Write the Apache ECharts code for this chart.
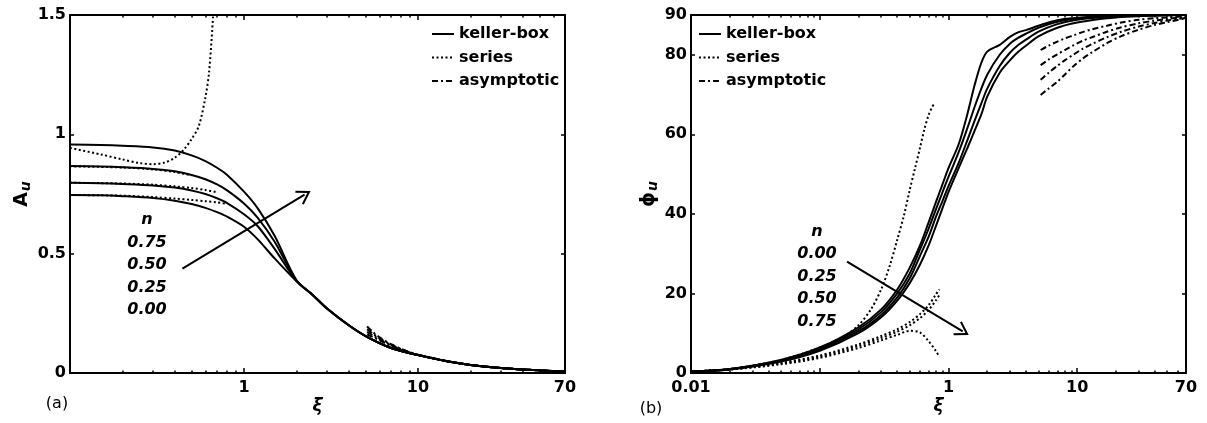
<!DOCTYPE html>
<html>
<head>
<meta charset="utf-8">
<script src="https://cdn.jsdelivr.net/npm/echarts@6.0.0/dist/echarts.min.js"></script>
<style>
  html, body { margin: 0; padding: 0; background: #fff; }
  #chart { width: 1207px; height: 423px; }
</style>
</head>
<body>
<div id="chart"></div>
<script>
// ---- panel (a): A_u vs xi ----
const xiA = [0.1, 0.15, 0.2, 0.3, 0.4, 0.5, 0.6, 0.7, 0.8, 1, 1.2, 1.5, 2, 2.5, 3, 4, 5, 7, 10, 15, 20, 30, 50, 70]
const kbA_075 = [0.957, 0.955, 0.952, 0.945, 0.932, 0.912, 0.888, 0.86, 0.83, 0.76, 0.69, 0.575, 0.39, 0.325, 0.27, 0.2, 0.155, 0.105, 0.075, 0.048, 0.034, 0.021, 0.011, 0.007]
const kbA_050 = [0.867, 0.865, 0.862, 0.855, 0.845, 0.83, 0.812, 0.79, 0.765, 0.71, 0.65, 0.55, 0.388, 0.325, 0.27, 0.2, 0.155, 0.105, 0.075, 0.048, 0.034, 0.021, 0.011, 0.007]
const kbA_025 = [0.797, 0.795, 0.792, 0.786, 0.777, 0.765, 0.75, 0.732, 0.712, 0.665, 0.615, 0.52, 0.386, 0.325, 0.27, 0.2, 0.155, 0.105, 0.075, 0.048, 0.034, 0.021, 0.011, 0.007]
const kbA_000 = [0.746, 0.745, 0.741, 0.733, 0.722, 0.708, 0.692, 0.674, 0.655, 0.613, 0.56, 0.48, 0.385, 0.325, 0.27, 0.2, 0.155, 0.105, 0.075, 0.048, 0.034, 0.021, 0.011, 0.007]

const xiSerA_075 = [0.1, 0.15, 0.2, 0.25, 0.3, 0.35, 0.4, 0.45, 0.5, 0.55, 0.6, 0.63, 0.665]
const serA_075 = [0.943, 0.916, 0.895, 0.88, 0.875, 0.882, 0.902, 0.935, 0.98, 1.035, 1.155, 1.26, 1.5]
const xiSerA_050 = [0.1, 0.2, 0.3, 0.4, 0.5]
const serA_050 = [0.866, 0.861, 0.853, 0.842, 0.828]
const xiSerA_025 = [0.1, 0.2, 0.3, 0.4, 0.5, 0.6, 0.7]
const serA_025 = [0.797, 0.794, 0.789, 0.782, 0.775, 0.767, 0.757]
const xiSerA_000 = [0.1, 0.2, 0.3, 0.4, 0.5, 0.6, 0.7, 0.8]
const serA_000 = [0.746, 0.743, 0.737, 0.731, 0.725, 0.72, 0.715, 0.708]

const xiAsA = [5.1, 5.5, 6, 7, 8, 9, 10, 15, 20, 30, 50, 70]
const asA_1 = [0.195, 0.172, 0.15, 0.121, 0.101, 0.087, 0.077, 0.048, 0.034, 0.021, 0.011, 0.007]
const asA_2 = [0.183, 0.165, 0.146, 0.119, 0.1, 0.086, 0.077, 0.048, 0.034, 0.021, 0.011, 0.007]
const asA_3 = [0.172, 0.158, 0.141, 0.116, 0.098, 0.085, 0.076, 0.048, 0.034, 0.021, 0.011, 0.007]
const asA_4 = [0.162, 0.151, 0.137, 0.113, 0.096, 0.084, 0.076, 0.048, 0.034, 0.021, 0.011, 0.007]

const arrowA = [[0.443, 0.4375], [2.23, 0.7475]]

// ---- panel (b): phi_u vs xi ----
const xiB = [0.01, 0.02, 0.05, 0.1, 0.2, 0.3, 0.4, 0.5, 0.6, 0.7, 0.8, 0.9, 1, 1.2, 1.4, 1.6, 1.8, 2, 2.5, 3, 3.5, 4, 5, 7, 10, 15, 20, 30, 50, 70]
const kbB_000 = [0.4, 1.0, 3.3, 6.4, 11.5, 16, 21, 26.5, 32, 37.8, 43, 47.5, 51.5, 57.5, 65, 72.5, 78, 80.8, 82.5, 84.5, 85.7, 86.2, 87.3, 88.7, 89.3, 89.7, 89.8, 89.9, 90, 90]
const kbB_025 = [0.38, 0.97, 3.2, 6.2, 11, 15.3, 20, 25, 31, 36.2, 41.2, 45.5, 49.3, 55.5, 61.5, 67, 71.5, 75, 80, 82.8, 84.3, 85.3, 86.8, 88.3, 89.1, 89.6, 89.8, 89.9, 90, 90]
const kbB_050 = [0.36, 0.93, 3.0, 5.9, 10.5, 14.6, 19, 23.8, 29.4, 34.2, 39.3, 43.3, 47, 52.8, 58.5, 63.5, 67.8, 71.5, 77.2, 80.5, 82.5, 83.8, 85.8, 87.7, 88.8, 89.4, 89.7, 89.9, 90, 90]
const kbB_075 = [0.35, 0.9, 2.9, 5.6, 10, 14, 18.2, 22.6, 27.2, 32, 37, 41.5, 45.5, 51.5, 56.5, 61, 65, 69.5, 75.5, 78.6, 80.8, 82.3, 84.6, 86.8, 88.1, 89, 89.4, 89.7, 89.9, 90]

const xiSerB_000 = [0.01, 0.02, 0.05, 0.1, 0.15, 0.2, 0.25, 0.3, 0.35, 0.4, 0.45, 0.5, 0.55, 0.6, 0.65, 0.7, 0.75, 0.77]
const serB_000 = [0.4, 1.0, 3.3, 6.4, 9.0, 12, 16, 21, 27, 33.5, 39.5, 46, 51.5, 56.5, 61.3, 64.8, 67, 67.5]
const xiSerB = [0.01, 0.02, 0.05, 0.1, 0.2, 0.3, 0.4, 0.5, 0.6, 0.7, 0.8, 0.85]
const serB_025 = [0.38, 0.95, 2.6, 4.4, 7.2, 9.3, 11, 12.8, 14.8, 17, 19.8, 21]
const serB_050 = [0.36, 0.9, 2.4, 4.1, 6.8, 8.8, 10.4, 12, 13.8, 15.8, 18.3, 19.6]
const serB_075 = [0.35, 0.85, 2.2, 3.8, 6.3, 8.2, 9.6, 10.6, 10.2, 8, 5.5, 4]

const xiAsB = [5.2, 6, 7, 8, 9.4, 11, 13, 17, 22, 30, 40, 50, 70]
const asB_1 = [81.2, 82.3, 83.3, 84.1, 84.9, 85.7, 86.4, 87.3, 88.1, 88.8, 89.2, 89.4, 89.7]
const asB_2 = [77.4, 78.8, 80.1, 81.2, 82.4, 83.5, 84.4, 85.8, 86.9, 87.9, 88.6, 89, 89.5]
const asB_3 = [73.7, 75.5, 77.2, 78.6, 80.1, 81.5, 82.7, 84.4, 85.8, 87.1, 88, 88.6, 89.3]
const asB_4 = [69.9, 71.5, 73.2, 75, 77.2, 79, 80.6, 82.9, 84.7, 86.3, 87.5, 88.2, 89.2]

const arrowB = [[0.163, 28.0], [1.29, 10.46]]

// axis ticks / labels
const xLabelsA = [1, 10, 70]
const xLabelsB = [0.01, 1, 10, 70]
const xMajorA = [1, 10]
const xMajorB = [0.1, 1, 10]
const nLabelsA = ['n', '0.75', '0.50', '0.25', '0.00']
const nLabelsB = ['n', '0.00', '0.25', '0.50', '0.75']
const legendNames = ['keller-box', 'series', 'asymptotic']

const FONT = 'DejaVu Sans'
const DOTTED = [2, 2.5]
const DASHDOT = [6, 3, 2, 3]
const ARROW = 'path://M8,0 L16,12 L14.4,13.2 L8,3.6 L1.6,13.2 L0,12 Z'

const minorTicks = (lo, hi) => {
  const out = []
  for (let d = lo; d < hi; d *= 10) {
    for (let k = 2; k <= 9; k++) {
      const v = +(k * d).toPrecision(3)
      if (v < 70) out.push(v)
    }
  }
  return out
}

const fmtLog = (v) => {
  const x = Math.pow(10, v)
  return x < 0.999 ? x.toFixed(2) : String(Math.round(x))
}

const pairs = (xs, ys) => xs.map((x, i) => [x, ys[i]])

const line = (name, xs, ys, xi, yi, type) => ({
  name,
  type: 'line',
  xAxisIndex: xi,
  yAxisIndex: yi,
  data: pairs(xs, ys),
  symbol: 'none',
  smooth: 0.3,
  silent: true,
  animation: false,
  lineStyle: { color: '#000', width: 2, type }
})

const tickAxis = (grid, min, pos, values, len, labels, showLine) => ({
  type: 'value',
  gridIndex: grid,
  position: pos,
  min,
  max: Math.log10(70),
  axisLine: { show: !!showLine, onZero: false, lineStyle: { color: '#000', width: 2 } },
  axisTick: {
    show: true, inside: true, length: len,
    customValues: values.map(Math.log10),
    lineStyle: { color: '#000', width: 1.5 }
  },
  axisLabel: labels ? {
    show: true,
    customValues: labels.map(Math.log10),
    formatter: fmtLog,
    margin: 7,
    color: '#000', fontFamily: FONT, fontWeight: 'bold', fontSize: 16
  } : { show: false },
  splitLine: { show: false }
})

const dataAxis = (grid, min) => ({
  type: 'log',
  logBase: 10,
  gridIndex: grid,
  position: 'bottom',
  min,
  max: 70,
  axisLine: { show: true, onZero: false, lineStyle: { color: '#000', width: 2 } },
  axisTick: { show: false },
  axisLabel: { show: false },
  splitLine: { show: false },
  name: 'ξ',
  nameLocation: 'middle',
  nameGap: 25,
  nameTextStyle: { color: '#000', fontFamily: FONT, fontSize: 17, fontWeight: 'bold', fontStyle: 'italic' }
})

const yAxisPair = (grid, max, interval, name, gap) => [
  {
    type: 'value', gridIndex: grid, position: 'left', min: 0, max, interval,
    axisLine: { show: true, onZero: false, lineStyle: { color: '#000', width: 2 } },
    axisTick: { show: true, inside: true, length: 4, lineStyle: { color: '#000', width: 1.5 } },
    axisLabel: { color: '#000', fontFamily: FONT, fontWeight: 'bold', fontSize: 16, margin: 4 },
    splitLine: { show: false },
    name,
    nameLocation: 'middle',
    nameRotate: 90,
    nameGap: gap,
    nameTextStyle: {
      color: '#000',
      rich: {
        a: { fontFamily: FONT, fontWeight: 'bold', fontSize: 19, lineHeight: 22, color: '#000' },
        s: { fontFamily: FONT, fontWeight: 'bold', fontStyle: 'italic', fontSize: 14, lineHeight: 14, padding: [10, 0, 0, 1], color: '#000' }
      }
    }
  },
  {
    type: 'value', gridIndex: grid, position: 'right', min: 0, max, interval,
    axisLine: { show: true, onZero: false, lineStyle: { color: '#000', width: 2 } },
    axisTick: { show: true, inside: true, length: 4, lineStyle: { color: '#000', width: 1.5 } },
    axisLabel: { show: false },
    splitLine: { show: false }
  }
]

const arrowLine = (pts) => ({
  silent: true,
  animation: false,
  symbol: ['none', ARROW],
  symbolSize: [16, 14],
  label: { show: false },
  emphasis: { disabled: true },
  lineStyle: { color: '#000', width: 2, type: 'solid' },
  data: [[{ coord: pts[0] }, { coord: pts[1] }]]
})

// x axes: 0-4 panel (a), 5-9 panel (b)
const xAxes = [
  dataAxis(0, 0.1),
  tickAxis(0, -1, 'bottom', xMajorA, 5, xLabelsA),
  tickAxis(0, -1, 'bottom', minorTicks(0.1, 70), 2.5),
  tickAxis(0, -1, 'top', xMajorA, 5, null, true),
  tickAxis(0, -1, 'top', minorTicks(0.1, 70), 2.5),
  dataAxis(1, 0.01),
  tickAxis(1, -2, 'bottom', xMajorB, 5, xLabelsB),
  tickAxis(1, -2, 'bottom', minorTicks(0.01, 70), 2.5),
  tickAxis(1, -2, 'top', xMajorB, 5, null, true),
  tickAxis(1, -2, 'top', minorTicks(0.01, 70), 2.5)
]

const yAxes = [
  ...yAxisPair(0, 1.5, 0.5, '{a|A}{s|u}', 26),
  ...yAxisPair(1, 90, 20, '{a|ϕ}{s|u}', 30)
]

const kbA = line('keller-box', xiA, kbA_075, 0, 0, 'solid')
kbA.markLine = arrowLine(arrowA)
const kbB = line('keller-box', xiB, kbB_000, 5, 2, 'solid')
kbB.markLine = arrowLine(arrowB)

const series = [
  kbA,
  line('keller-box', xiA, kbA_050, 0, 0, 'solid'),
  line('keller-box', xiA, kbA_025, 0, 0, 'solid'),
  line('keller-box', xiA, kbA_000, 0, 0, 'solid'),
  line('series', xiSerA_075, serA_075, 0, 0, DOTTED),
  line('series', xiSerA_050, serA_050, 0, 0, DOTTED),
  line('series', xiSerA_025, serA_025, 0, 0, DOTTED),
  line('series', xiSerA_000, serA_000, 0, 0, DOTTED),
  line('asymptotic', xiAsA, asA_1, 0, 0, DASHDOT),
  line('asymptotic', xiAsA, asA_2, 0, 0, DASHDOT),
  line('asymptotic', xiAsA, asA_3, 0, 0, DASHDOT),
  line('asymptotic', xiAsA, asA_4, 0, 0, DASHDOT),
  kbB,
  line('keller-box', xiB, kbB_025, 5, 2, 'solid'),
  line('keller-box', xiB, kbB_050, 5, 2, 'solid'),
  line('keller-box', xiB, kbB_075, 5, 2, 'solid'),
  line('series', xiSerB_000, serB_000, 5, 2, DOTTED),
  line('series', xiSerB, serB_025, 5, 2, DOTTED),
  line('series', xiSerB, serB_050, 5, 2, DOTTED),
  line('series', xiSerB, serB_075, 5, 2, DOTTED),
  line('asymptotic', xiAsB, asB_1, 5, 2, DASHDOT),
  line('asymptotic', xiAsB, asB_2, 5, 2, DASHDOT),
  line('asymptotic', xiAsB, asB_3, 5, 2, DASHDOT),
  line('asymptotic', xiAsB, asB_4, 5, 2, DASHDOT)
]

const legendOpt = (left) => ({
  data: legendNames,
  orient: 'vertical',
  left,
  top: 21,
  itemWidth: 22,
  itemHeight: 14,
  itemGap: 7.5,
  selectedMode: false,
  itemStyle: { color: 'rgba(0,0,0,0)', borderWidth: 0, opacity: 0 },
  textStyle: { color: '#000', fontFamily: FONT, fontWeight: 'bold', fontSize: 16 }
})

const textBlock = (x, y, lines) => ({
  type: 'text',
  x,
  y,
  silent: true,
  style: {
    text: lines.join('\n'),
    fill: '#000',
    font: 'italic bold 16px "DejaVu Sans"',
    lineHeight: 22.5,
    align: 'center',
    verticalAlign: 'top'
  }
})

const plainText = (x, y, text) => ({
  type: 'text',
  x,
  y,
  silent: true,
  style: { text, fill: '#000', font: '16px "DejaVu Sans"', align: 'center', verticalAlign: 'middle' }
})

const chart = echarts.init(document.getElementById('chart'), null, { renderer: 'canvas' })
chart.setOption({
  backgroundColor: '#fff',
  animation: false,
  grid: [
    { left: 70, top: 15, width: 495, height: 358 },
    { left: 691, top: 15, width: 495, height: 358 }
  ],
  xAxis: xAxes,
  yAxis: yAxes,
  legend: [legendOpt(426), legendOpt(693)],
  graphic: [
    textBlock(147, 209, nLabelsA),
    textBlock(817, 220.5, nLabelsB),
    plainText(57, 404, '(a)'),
    plainText(651, 409, '(b)')
  ],
  series
})
</script>
</body>
</html>
